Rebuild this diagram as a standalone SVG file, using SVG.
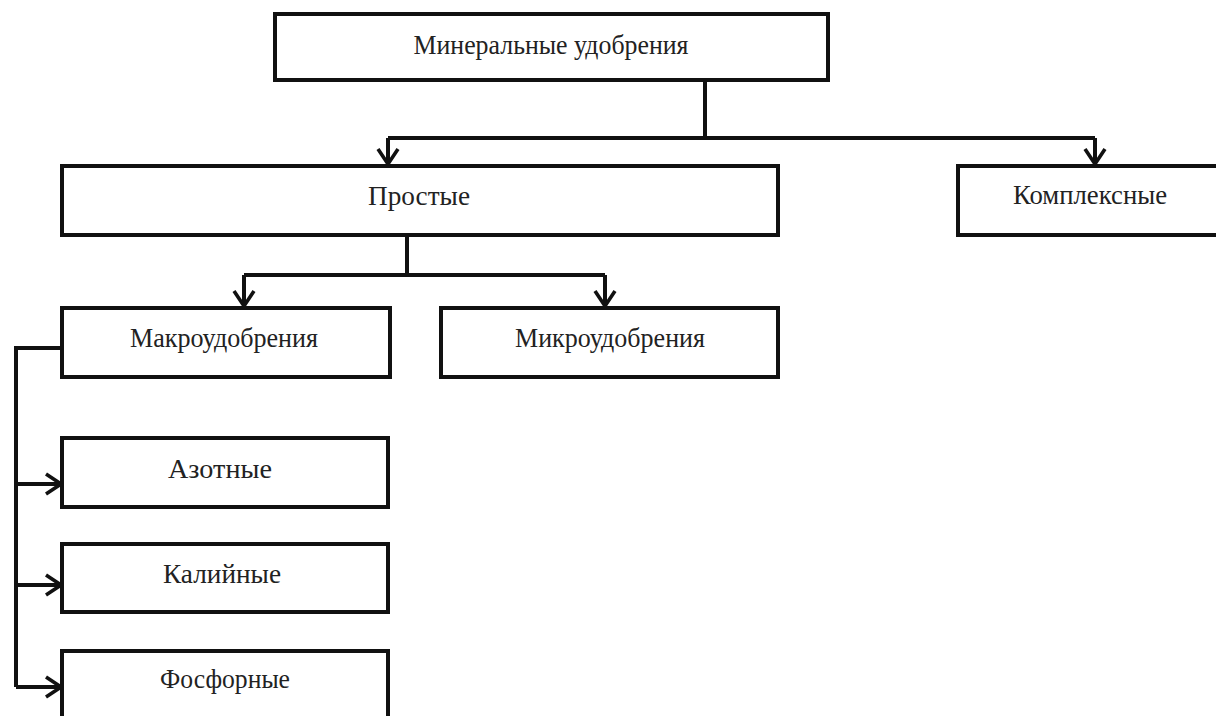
<svg xmlns="http://www.w3.org/2000/svg" width="1216" height="716" viewBox="0 0 1216 716">
<style>
.box{fill:#fff;stroke:#111;stroke-width:4}
.lbl{font-family:"Liberation Serif","Times New Roman",serif;font-size:27px;fill:#222;text-anchor:middle}
.ln{fill:none;stroke:#111;stroke-width:4}
</style>
<defs>
<marker id="ah" viewBox="0 0 20 24" refX="17" refY="12" markerWidth="20" markerHeight="24" markerUnits="userSpaceOnUse" orient="auto">
<path d="M2,2 L17,12 L2,22" fill="none" stroke="#111" stroke-width="3.6"/>
</marker>
</defs>
<rect width="1216" height="716" fill="#fff"/>
<g id="connectors">
<path class="ln" d="M705,80 V138"/>
<path class="ln" d="M388,138 H1095"/>
<path class="ln" d="M388,138 V164" marker-end="url(#ah)"/>
<path class="ln" d="M1095,138 V164" marker-end="url(#ah)"/>
<path class="ln" d="M407,235 V275"/>
<path class="ln" d="M244,275 H605"/>
<path class="ln" d="M244,275 V306" marker-end="url(#ah)"/>
<path class="ln" d="M605,275 V306" marker-end="url(#ah)"/>
<path class="ln" d="M62,348 H16 V687"/>
<path class="ln" d="M16,484 H61" marker-end="url(#ah)"/>
<path class="ln" d="M16,585 H61" marker-end="url(#ah)"/>
<path class="ln" d="M16,687 H61" marker-end="url(#ah)"/>
</g>
<g id="n-mineral"><rect class="box" x="275" y="14" width="553" height="66"/><text class="lbl" x="551" y="54" textLength="275" lengthAdjust="spacingAndGlyphs">Минеральные удобрения</text></g>
<g id="n-prostye"><rect class="box" x="62" y="166" width="716" height="69"/><text class="lbl" x="419" y="205" textLength="102" lengthAdjust="spacingAndGlyphs">Простые</text></g>
<g id="n-kompleks"><rect class="box" x="958" y="166" width="270" height="69"/><text class="lbl" x="1090" y="204" textLength="154" lengthAdjust="spacingAndGlyphs">Комплексные</text></g>
<g id="n-makro"><rect class="box" x="62" y="308" width="328" height="69"/><text class="lbl" x="224" y="347" textLength="188" lengthAdjust="spacingAndGlyphs">Макроудобрения</text></g>
<g id="n-mikro"><rect class="box" x="441" y="308" width="337" height="69"/><text class="lbl" x="610" y="347" textLength="190" lengthAdjust="spacingAndGlyphs">Микроудобрения</text></g>
<g id="n-azot"><rect class="box" x="62" y="438" width="326" height="69"/><text class="lbl" x="220" y="478" textLength="104" lengthAdjust="spacingAndGlyphs">Азотные</text></g>
<g id="n-kali"><rect class="box" x="62" y="544" width="326" height="68"/><text class="lbl" x="222" y="583" textLength="118" lengthAdjust="spacingAndGlyphs">Калийные</text></g>
<g id="n-fosf"><rect class="box" x="62" y="651" width="326" height="75"/><text class="lbl" x="225" y="688" textLength="130" lengthAdjust="spacingAndGlyphs">Фосфорные</text></g>
</svg>
